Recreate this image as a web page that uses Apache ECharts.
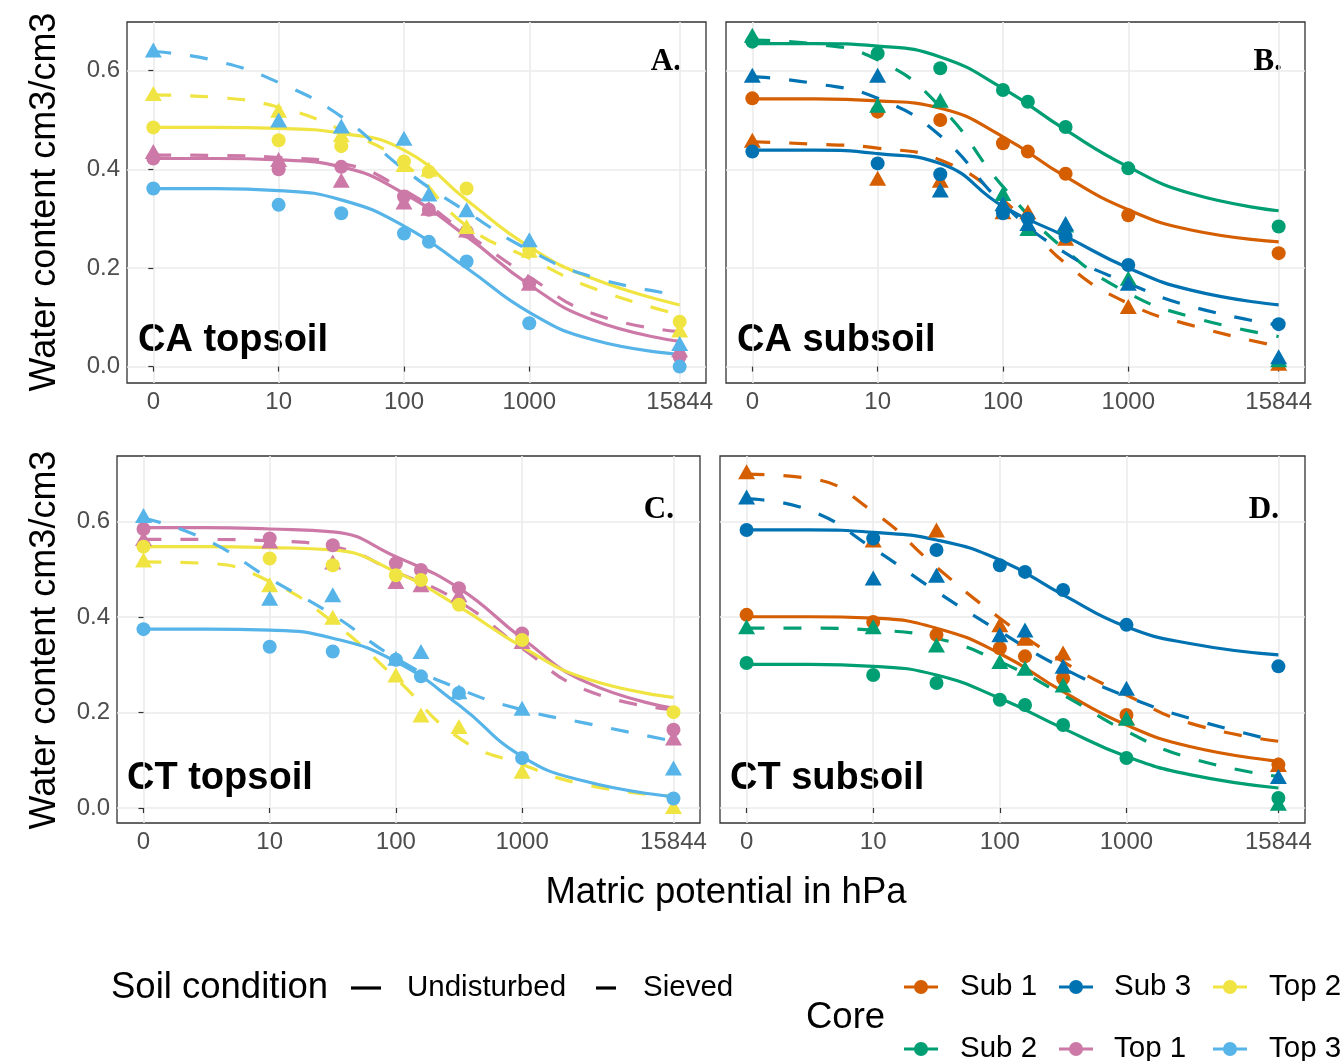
<!DOCTYPE html>
<html>
<head>
<meta charset="utf-8">
<script src="https://cdn.jsdelivr.net/npm/echarts@6/dist/echarts.min.js"></script>
<style>
html,body{margin:0;padding:0;background:#fff;}
#chart{width:1344px;height:1061px;}
</style>
</head>
<body>
<div id="chart"></div>
<script>
// ---------- axis / category data ----------
const pointHeads = [0, 10, 31.6, 100, 158, 316, 1000, 15844];      // measured matric potentials (hPa)
const fitHeads   = [0, 3.16, 10, 31.6, 100, 316, 1000, 3162, 15844]; // where fitted curves were read
const xTickHeads  = [0, 10, 100, 1000, 15844];
const xTickLabels = ['0', '10', '100', '1000', '15844'];
const yTickValues = [0, 0.2, 0.4, 0.6];
const yTickLabels = ['0.0', '0.2', '0.4', '0.6'];
const cores = ['Sub 1', 'Sub 2', 'Sub 3', 'Top 1', 'Top 2', 'Top 3'];
const coreColors = ['#D55E00', '#009E73', '#0072B2', '#CC79A7', '#F0E442', '#56B4E9'];
const conditions = ['Undisturbed', 'Sieved'];
const panelTitles = ['CA topsoil', 'CA subsoil', 'CT topsoil', 'CT subsoil'];
const panelLetters = ['A.', 'B.', 'C.', 'D.'];

// ---------- Panel A: CA topsoil ----------
const caTop_Top1_Und_pts = [0.422, 0.400, 0.405, 0.345, 0.318, 0.274, 0.169, 0.020];
const caTop_Top1_Und_fit = [0.422, 0.422, 0.419, 0.405, 0.351, 0.264, 0.166, 0.095, 0.051];
const caTop_Top1_Sie_pts = [0.436, 0.420, 0.378, 0.334, 0.321, 0.277, 0.169, 0.034];
const caTop_Top1_Sie_fit = [0.429, 0.428, 0.424, 0.412, 0.358, 0.270, 0.182, 0.108, 0.071];
const caTop_Top2_Und_pts = [0.485, 0.459, 0.447, 0.416, 0.395, 0.361, 0.236, 0.091];
const caTop_Top2_Und_fit = [0.485, 0.485, 0.483, 0.473, 0.439, 0.338, 0.243, 0.179, 0.125];
const caTop_Top2_Sie_pts = [0.554, 0.520, 0.470, 0.410, 0.400, 0.284, 0.236, 0.074];
const caTop_Top2_Sie_fit = [0.551, 0.546, 0.526, 0.480, 0.412, 0.285, 0.220, 0.160, 0.105];
const caTop_Top3_Und_pts = [0.361, 0.328, 0.311, 0.270, 0.253, 0.213, 0.088, 0.000];
const caTop_Top3_Und_fit = [0.361, 0.361, 0.357, 0.338, 0.285, 0.200, 0.110, 0.055, 0.025];
const caTop_Top3_Sie_pts = [0.642, 0.500, 0.488, 0.463, 0.350, 0.318, 0.257, 0.047];
const caTop_Top3_Sie_fit = [0.639, 0.620, 0.576, 0.507, 0.400, 0.314, 0.236, 0.182, 0.145];

// ---------- Panel B: CA subsoil ----------
const caSub_Sub1_Und_pts = [0.544, 0.517, 0.500, 0.453, 0.436, 0.391, 0.307, 0.230];
const caSub_Sub1_Und_fit = [0.543, 0.543, 0.539, 0.524, 0.466, 0.385, 0.318, 0.277, 0.253];
const caSub_Sub1_Sie_pts = [0.459, 0.382, 0.378, 0.314, 0.314, 0.260, 0.122, 0.007];
const caSub_Sub1_Sie_fit = [0.456, 0.451, 0.443, 0.419, 0.338, 0.209, 0.128, 0.084, 0.041];
const caSub_Sub2_Und_pts = [0.659, 0.635, 0.605, 0.561, 0.537, 0.486, 0.402, 0.284];
const caSub_Sub2_Und_fit = [0.655, 0.655, 0.650, 0.628, 0.564, 0.480, 0.405, 0.351, 0.316];
const caSub_Sub2_Sie_pts = [0.672, 0.530, 0.540, 0.351, 0.280, 0.287, 0.179, 0.014];
const caSub_Sub2_Sie_fit = [0.662, 0.654, 0.622, 0.527, 0.365, 0.236, 0.149, 0.101, 0.061];
const caSub_Sub3_Und_pts = [0.436, 0.412, 0.390, 0.311, 0.300, 0.264, 0.206, 0.086];
const caSub_Sub3_Und_fit = [0.439, 0.439, 0.432, 0.412, 0.325, 0.264, 0.200, 0.155, 0.125];
const caSub_Sub3_Sie_pts = [0.591, 0.591, 0.358, 0.330, 0.290, 0.290, 0.169, 0.020];
const caSub_Sub3_Sie_fit = [0.588, 0.574, 0.544, 0.468, 0.330, 0.230, 0.169, 0.122, 0.084];

// ---------- Panel C: CT topsoil ----------
const ctTop_Top1_Und_pts = [0.585, 0.565, 0.551, 0.513, 0.499, 0.461, 0.366, 0.164];
const ctTop_Top1_Und_fit = [0.588, 0.588, 0.585, 0.579, 0.527, 0.461, 0.356, 0.265, 0.209];
const ctTop_Top1_Sie_pts = [0.565, 0.560, 0.516, 0.475, 0.468, 0.447, 0.349, 0.147];
const ctTop_Top1_Sie_fit = [0.563, 0.563, 0.560, 0.548, 0.495, 0.433, 0.335, 0.248, 0.206];
const ctTop_Top2_Und_pts = [0.548, 0.523, 0.509, 0.488, 0.478, 0.426, 0.352, 0.201];
const ctTop_Top2_Und_fit = [0.548, 0.548, 0.546, 0.541, 0.495, 0.422, 0.338, 0.272, 0.232];
const ctTop_Top2_Sie_pts = [0.520, 0.468, 0.400, 0.279, 0.195, 0.171, 0.077, 0.003];
const ctTop_Top2_Sie_fit = [0.516, 0.513, 0.475, 0.390, 0.272, 0.147, 0.091, 0.049, 0.024];
const ctTop_Top3_Und_pts = [0.375, 0.338, 0.328, 0.311, 0.276, 0.241, 0.105, 0.020];
const ctTop_Top3_Und_fit = [0.375, 0.375, 0.373, 0.356, 0.307, 0.216, 0.108, 0.056, 0.024];
const ctTop_Top3_Sie_pts = [0.613, 0.440, 0.447, 0.314, 0.328, 0.244, 0.209, 0.084];
const ctTop_Top3_Sie_fit = [0.608, 0.562, 0.481, 0.405, 0.314, 0.250, 0.206, 0.178, 0.140];

// ---------- Panel D: CT subsoil ----------
const ctSub_Sub1_Und_pts = [0.405, 0.390, 0.363, 0.335, 0.318, 0.272, 0.195, 0.091];
const ctSub_Sub1_Und_fit = [0.401, 0.401, 0.398, 0.377, 0.324, 0.244, 0.174, 0.129, 0.098];
const ctSub_Sub1_Sie_pts = [0.705, 0.562, 0.583, 0.384, 0.356, 0.325, 0.190, 0.091];
const ctSub_Sub1_Sie_fit = [0.700, 0.691, 0.621, 0.505, 0.398, 0.307, 0.237, 0.178, 0.140];
const ctSub_Sub2_Und_pts = [0.304, 0.279, 0.262, 0.227, 0.216, 0.174, 0.105, 0.021];
const ctSub_Sub2_Und_fit = [0.301, 0.301, 0.297, 0.279, 0.230, 0.167, 0.108, 0.070, 0.042];
const ctSub_Sub2_Sie_pts = [0.380, 0.380, 0.342, 0.307, 0.293, 0.258, 0.188, 0.010];
const ctSub_Sub2_Sie_fit = [0.377, 0.377, 0.373, 0.356, 0.307, 0.237, 0.161, 0.105, 0.066];
const ctSub_Sub3_Und_pts = [0.583, 0.565, 0.541, 0.509, 0.495, 0.457, 0.384, 0.297];
const ctSub_Sub3_Und_fit = [0.583, 0.583, 0.578, 0.562, 0.520, 0.447, 0.380, 0.345, 0.321];
const ctSub_Sub3_Sie_pts = [0.652, 0.482, 0.488, 0.363, 0.373, 0.297, 0.251, 0.066];
const ctSub_Sub3_Sie_fit = [0.648, 0.624, 0.544, 0.454, 0.370, 0.293, 0.234, 0.188, 0.140];

// [panel index, core, condition, points, fit]
const seriesSpecs = [
  [0, 'Top 1', 'Undisturbed', caTop_Top1_Und_pts, caTop_Top1_Und_fit],
  [0, 'Top 1', 'Sieved',      caTop_Top1_Sie_pts, caTop_Top1_Sie_fit],
  [0, 'Top 2', 'Undisturbed', caTop_Top2_Und_pts, caTop_Top2_Und_fit],
  [0, 'Top 2', 'Sieved',      caTop_Top2_Sie_pts, caTop_Top2_Sie_fit],
  [0, 'Top 3', 'Undisturbed', caTop_Top3_Und_pts, caTop_Top3_Und_fit],
  [0, 'Top 3', 'Sieved',      caTop_Top3_Sie_pts, caTop_Top3_Sie_fit],
  [1, 'Sub 1', 'Undisturbed', caSub_Sub1_Und_pts, caSub_Sub1_Und_fit],
  [1, 'Sub 1', 'Sieved',      caSub_Sub1_Sie_pts, caSub_Sub1_Sie_fit],
  [1, 'Sub 2', 'Undisturbed', caSub_Sub2_Und_pts, caSub_Sub2_Und_fit],
  [1, 'Sub 2', 'Sieved',      caSub_Sub2_Sie_pts, caSub_Sub2_Sie_fit],
  [1, 'Sub 3', 'Undisturbed', caSub_Sub3_Und_pts, caSub_Sub3_Und_fit],
  [1, 'Sub 3', 'Sieved',      caSub_Sub3_Sie_pts, caSub_Sub3_Sie_fit],
  [2, 'Top 1', 'Undisturbed', ctTop_Top1_Und_pts, ctTop_Top1_Und_fit],
  [2, 'Top 1', 'Sieved',      ctTop_Top1_Sie_pts, ctTop_Top1_Sie_fit],
  [2, 'Top 2', 'Undisturbed', ctTop_Top2_Und_pts, ctTop_Top2_Und_fit],
  [2, 'Top 2', 'Sieved',      ctTop_Top2_Sie_pts, ctTop_Top2_Sie_fit],
  [2, 'Top 3', 'Undisturbed', ctTop_Top3_Und_pts, ctTop_Top3_Und_fit],
  [2, 'Top 3', 'Sieved',      ctTop_Top3_Sie_pts, ctTop_Top3_Sie_fit],
  [3, 'Sub 1', 'Undisturbed', ctSub_Sub1_Und_pts, ctSub_Sub1_Und_fit],
  [3, 'Sub 1', 'Sieved',      ctSub_Sub1_Sie_pts, ctSub_Sub1_Sie_fit],
  [3, 'Sub 2', 'Undisturbed', ctSub_Sub2_Und_pts, ctSub_Sub2_Und_fit],
  [3, 'Sub 2', 'Sieved',      ctSub_Sub2_Sie_pts, ctSub_Sub2_Sie_fit],
  [3, 'Sub 3', 'Undisturbed', ctSub_Sub3_Und_pts, ctSub_Sub3_Und_fit],
  [3, 'Sub 3', 'Sieved',      ctSub_Sub3_Sie_pts, ctSub_Sub3_Sie_fit]
];

// ---------- build chart ----------
const FONT = '"Liberation Sans", Arial, sans-serif';
const tOf = h => Math.log10(Math.max(h, 1)); // log10 scale, 0 hPa drawn at 1 hPa
const xTickPos = xTickHeads.map(tOf);
const xLabelFor = v => {
  let best = 0;
  xTickPos.forEach((p, i) => { if (Math.abs(p - v) < Math.abs(xTickPos[best] - v)) best = i; });
  return xTickLabels[best];
};
const yLabelFor = v => {
  let best = 0;
  yTickValues.forEach((p, i) => { if (Math.abs(p - v) < Math.abs(yTickValues[best] - v)) best = i; });
  return yTickLabels[best];
};

const grids = [
  {left: 127, top: 22,  width: 579, height: 361},
  {left: 726, top: 22,  width: 579, height: 361},
  {left: 117, top: 456, width: 583, height: 367},
  {left: 720, top: 456, width: 585, height: 367}
];
const yRanges = [[-0.0333, 0.6988], [-0.0333, 0.6988], [-0.0314, 0.738], [-0.0314, 0.738]];

const xAxes = grids.map((g, i) => ({
  gridIndex: i, type: 'value', min: -0.21, max: 4.41,
  axisLine: {show: false},
  axisTick: {show: true, customValues: xTickPos, length: 5, lineStyle: {color: '#333', width: 1.2}},
  axisLabel: {customValues: xTickPos, formatter: xLabelFor, fontSize: 24, color: '#4D4D4D', margin: 7, fontFamily: FONT},
  splitLine: {show: true, lineStyle: {color: '#EBEBEB', width: 1.6}}
}));
const yAxes = grids.map((g, i) => ({
  gridIndex: i, type: 'value', min: yRanges[i][0], max: yRanges[i][1],
  axisLine: {show: false},
  axisTick: {show: i % 2 === 0, customValues: yTickValues, length: 5, lineStyle: {color: '#333', width: 1.2}},
  axisLabel: {show: i % 2 === 0, customValues: yTickValues, formatter: yLabelFor, fontSize: 24, color: '#4D4D4D', margin: 7, fontFamily: FONT},
  splitLine: {show: true, lineStyle: {color: '#EBEBEB', width: 1.6}}
}));

const series = [];
seriesSpecs.forEach(([p, core, cond, pts, fit]) => {
  const color = coreColors[cores.indexOf(core)];
  const sieved = cond === 'Sieved';
  series.push({
    name: core + ' ' + cond + ' fit', type: 'line', xAxisIndex: p, yAxisIndex: p,
    data: fitHeads.map((h, i) => [tOf(h), fit[i]]),
    smooth: 0.5, showSymbol: false, silent: true, z: 2,
    lineStyle: {color: color, width: 3.2, type: sieved ? [18, 19] : 'solid', cap: 'butt'}
  });
  series.push({
    name: core + ' ' + cond, type: 'scatter', xAxisIndex: p, yAxisIndex: p,
    data: pointHeads.map((h, i) => [tOf(h), pts[i]]),
    symbol: sieved ? 'triangle' : 'circle', symbolSize: sieved ? [17, 15] : 14,
    itemStyle: {color: color, opacity: 1}, z: 3
  });
});

// ---------- annotations & legend ----------
const graphic = [];
const txt = (text, x, y, size, opts = {}) => graphic.push({
  type: 'text', x: x, y: y, rotation: opts.rotation || 0, silent: true,
  style: {text: text, fontSize: size, fontFamily: opts.family || FONT, fontWeight: opts.weight || 'normal',
          fill: opts.color || '#000', textAlign: opts.align || 'left', textVerticalAlign: opts.valign || 'middle'}
});
// panel titles
const panelNamePos = [[138, 341], [737, 341], [127, 779], [730, 779]];
panelTitles.forEach((t, i) => txt(t, panelNamePos[i][0], panelNamePos[i][1], 38, {weight: 'bold'}));
const panelLetterPos = [[681, 62], [1282, 62], [674, 510], [1279, 510]];
panelLetters.forEach((t, i) => txt(t, panelLetterPos[i][0], panelLetterPos[i][1], 31,
  {weight: 'bold', family: '"Liberation Serif", "Times New Roman", serif', align: 'right'}));
// axis titles
txt('Water content cm3/cm3', 45, 202, 36, {rotation: Math.PI / 2, align: 'center'});
txt('Water content cm3/cm3', 45, 640, 36, {rotation: Math.PI / 2, align: 'center'});
txt('Matric potential in hPa', 726, 893, 36.5, {align: 'center'});
// legend: soil condition
txt('Soil condition', 111, 988, 36.5);
graphic.push({type: 'line', silent: true, shape: {x1: 351, y1: 988, x2: 381, y2: 988}, style: {stroke: '#000', lineWidth: 3.2}});
txt(conditions[0], 407, 988, 29.5);
graphic.push({type: 'line', silent: true, shape: {x1: 596, y1: 988, x2: 626, y2: 988}, style: {stroke: '#000', lineWidth: 3.2, lineDash: [20, 20]}});
txt(conditions[1], 643, 988, 29.5);
// legend: core
txt('Core', 806, 1018, 36.5);
const legendOrder = ['Sub 1', 'Sub 2', 'Sub 3', 'Top 1', 'Top 2', 'Top 3'];
const colKey = [921, 1076, 1230], colText = [960, 1114, 1269], rowY = [987, 1049];
legendOrder.forEach((c, k) => {
  const col = Math.floor(k / 2), row = k % 2;
  const color = coreColors[cores.indexOf(c)];
  const cx = colKey[col], cy = rowY[row];
  graphic.push({type: 'line', silent: true, shape: {x1: cx - 17, y1: cy, x2: cx + 17, y2: cy}, style: {stroke: color, lineWidth: 3.2}});
  graphic.push({type: 'circle', silent: true, shape: {cx: cx, cy: cy, r: 7}, style: {fill: color}});
  txt(c, colText[col], cy, 29.5);
});

const chart = echarts.init(document.getElementById('chart'), null, {renderer: 'canvas'});
chart.setOption({
  animation: false,
  backgroundColor: '#fff',
  grid: grids.map(g => Object.assign({show: true, borderColor: '#333', borderWidth: 1.3, backgroundColor: '#fff'}, g)),
  xAxis: xAxes,
  yAxis: yAxes,
  series: series,
  graphic: graphic
});
</script>
</body>
</html>
